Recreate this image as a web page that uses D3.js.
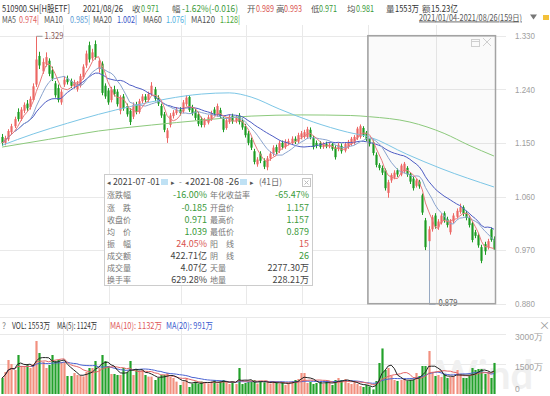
<!DOCTYPE html>
<html>
<head>
<meta charset="utf-8">
<title>510900.SH H股ETF</title>
<script src="https://d3js.org/d3.v7.min.js"></script>
<style>
  body { margin: 0; background: #fff; }
  svg { display: block; font-family: "Noto Sans CJK SC", "Noto Sans", sans-serif; }
</style>
</head>
<body>
<div id="chart"></div>
<script>
// daily candles, 2021/01/04 - 2021/08/26 (159 trading days)
const openP = [
  1.160,1.150,1.156,1.168,1.178,1.202,1.190,1.204,1.216,1.210,
  1.222,1.248,1.296,1.270,1.282,1.288,1.272,1.250,1.242,1.218,
  1.248,1.258,1.254,1.245,1.240,1.246,1.260,1.280,1.314,1.292,
  1.316,1.274,1.283,1.246,1.238,1.222,1.240,1.236,1.204,1.228,
  1.212,1.204,1.194,1.214,1.202,1.220,1.228,1.222,1.232,1.240,
  1.226,1.212,1.198,1.158,1.180,1.195,1.200,1.206,1.203,1.215,
  1.227,1.210,1.203,1.198,1.190,1.180,1.184,1.190,1.206,1.197,
  1.205,1.190,1.175,1.185,1.195,1.186,1.196,1.187,1.178,1.166,
  1.155,1.136,1.114,1.132,1.120,1.109,1.124,1.132,1.143,1.137,
  1.150,1.143,1.150,1.150,1.157,1.152,1.160,1.160,1.160,1.172,
  1.158,1.150,1.150,1.143,1.148,1.144,1.148,1.142,1.140,1.145,
  1.137,1.143,1.148,1.150,1.158,1.160,1.175,1.167,1.157,1.151,
  1.130,1.113,1.108,1.104,1.066,1.087,1.092,1.104,1.097,1.102,
  1.108,1.098,1.090,1.078,1.085,1.062,1.020,0.985,1.005,1.028,
  1.008,1.016,1.032,1.022,1.000,1.018,1.026,1.034,1.042,1.032,
  1.024,1.015,1.000,0.995,0.975,0.980,0.975,1.005,0.989
];
const closeP = [
  1.150,1.158,1.170,1.178,1.190,1.190,1.206,1.214,1.208,1.224,
  1.245,1.290,1.280,1.286,1.294,1.266,1.258,1.230,1.222,1.236,
  1.256,1.252,1.246,1.252,1.250,1.262,1.278,1.300,1.290,1.302,
  1.294,1.288,1.234,1.228,1.218,1.240,1.232,1.215,1.226,1.208,
  1.198,1.185,1.214,1.202,1.220,1.228,1.222,1.232,1.246,1.224,
  1.216,1.196,1.172,1.171,1.196,1.201,1.206,1.200,1.218,1.226,
  1.205,1.200,1.192,1.182,1.180,1.188,1.193,1.200,1.199,1.212,
  1.195,1.172,1.188,1.194,1.186,1.193,1.185,1.176,1.163,1.150,
  1.142,1.118,1.122,1.120,1.110,1.124,1.132,1.142,1.135,1.150,
  1.143,1.152,1.153,1.157,1.152,1.163,1.166,1.168,1.173,1.160,
  1.143,1.145,1.143,1.148,1.144,1.147,1.140,1.126,1.147,1.136,
  1.148,1.152,1.157,1.160,1.174,1.178,1.163,1.156,1.148,1.133,
  1.113,1.108,1.100,1.074,1.084,1.096,1.100,1.097,1.112,1.115,
  1.097,1.085,1.074,1.087,1.077,1.033,0.975,1.005,1.025,1.010,
  1.018,1.028,1.020,1.012,1.018,1.028,1.036,1.042,1.031,1.024,
  1.012,0.987,0.994,0.978,0.952,0.968,0.985,0.987,0.971
];
const highP = [
  1.165,1.162,1.173,1.182,1.194,1.208,1.210,1.218,1.222,1.228,
  1.250,1.329,1.303,1.292,1.302,1.292,1.278,1.254,1.248,1.240,
  1.262,1.263,1.258,1.256,1.254,1.266,1.282,1.305,1.320,1.308,
  1.322,1.292,1.287,1.250,1.242,1.244,1.246,1.240,1.230,1.232,
  1.216,1.208,1.218,1.219,1.224,1.232,1.232,1.236,1.252,1.244,
  1.230,1.216,1.202,1.175,1.200,1.205,1.210,1.210,1.222,1.230,
  1.230,1.214,1.207,1.202,1.194,1.192,1.197,1.204,1.210,1.216,
  1.209,1.194,1.192,1.198,1.199,1.197,1.200,1.191,1.182,1.170,
  1.159,1.140,1.126,1.136,1.124,1.128,1.136,1.146,1.147,1.154,
  1.154,1.156,1.157,1.161,1.161,1.167,1.170,1.172,1.177,1.176,
  1.162,1.154,1.153,1.151,1.152,1.150,1.151,1.146,1.150,1.149,
  1.151,1.155,1.160,1.163,1.177,1.181,1.178,1.170,1.157,1.154,
  1.134,1.116,1.112,1.107,1.088,1.099,1.104,1.107,1.115,1.118,
  1.111,1.101,1.093,1.090,1.088,1.065,1.024,1.010,1.029,1.032,
  1.022,1.032,1.035,1.026,1.022,1.032,1.040,1.048,1.045,1.036,
  1.028,1.018,1.004,0.999,0.979,0.984,0.989,1.008,0.993
];
const lowP = [
  1.145,1.146,1.153,1.165,1.175,1.186,1.187,1.200,1.204,1.206,
  1.220,1.244,1.274,1.266,1.278,1.262,1.254,1.226,1.218,1.214,
  1.244,1.248,1.242,1.241,1.236,1.243,1.257,1.276,1.285,1.288,
  1.290,1.268,1.230,1.224,1.214,1.218,1.228,1.211,1.198,1.204,
  1.194,1.180,1.190,1.198,1.199,1.216,1.218,1.219,1.229,1.220,
  1.212,1.192,1.168,1.150,1.176,1.191,1.197,1.196,1.200,1.212,
  1.202,1.196,1.188,1.178,1.176,1.176,1.181,1.187,1.195,1.194,
  1.191,1.168,1.172,1.182,1.182,1.183,1.181,1.172,1.159,1.146,
  1.138,1.114,1.110,1.116,1.106,1.104,1.120,1.128,1.131,1.133,
  1.139,1.140,1.146,1.147,1.148,1.149,1.156,1.157,1.157,1.156,
  1.139,1.141,1.140,1.140,1.141,1.141,1.137,1.122,1.136,1.132,
  1.134,1.140,1.145,1.147,1.155,1.157,1.160,1.153,1.144,1.129,
  1.109,1.104,1.096,1.070,1.058,1.083,1.089,1.093,1.094,1.099,
  1.093,1.081,1.070,1.075,1.073,1.029,0.970,0.879,1.001,1.006,
  1.004,1.013,1.016,1.008,0.996,1.015,1.023,1.031,1.027,1.020,
  1.008,0.983,0.990,0.974,0.948,0.962,0.971,0.984,0.971
];
// volume, 万
const volume = [
  800,1100,1700,1500,1200,1950,1400,1350,1450,1300,
  1500,2650,2050,1600,1300,1450,1950,1650,1700,1600,
  1600,900,900,1050,950,900,880,1100,1300,1300,
  1650,1300,1950,1650,1400,1000,1000,950,950,1300,
  1100,1650,950,1200,1100,1200,950,870,870,700,
  800,950,950,1050,870,800,620,450,620,800,
  350,520,620,520,620,600,520,620,700,520,
  620,700,600,500,620,500,1300,500,550,600,
  620,700,520,650,580,600,520,600,550,500,
  600,450,550,650,700,750,1050,1050,550,600,
  500,550,600,500,650,550,450,700,800,700,
  750,550,500,600,500,400,350,450,380,228,
  650,1550,2277,1200,1300,900,700,650,700,750,
  650,700,700,1050,900,1400,1400,2150,1100,900,
  950,850,1000,800,850,900,1200,1000,800,800,
  900,1300,1200,1250,1250,1000,1100,800,1553
];
// first trading day of Feb..Aug (index)
const monthStarts = [20, 35, 58, 79, 97, 118, 140];
const priceTicks = [1.330, 1.240, 1.150, 1.060, 0.970, 0.880];
const volTicks = [0, 1500, 3000];
// MA60 / MA120: [day index, value]
const ma60Pts = [[0,1.146],[10,1.165],[21,1.183],[31,1.198],[42,1.212],[53,1.224],[64,1.232],[73,1.234],
                 [80,1.227],[89,1.207],[100,1.185],[111,1.168],[118,1.160],[130,1.131],[141,1.107],[158,1.076]];
const ma120Pts = [[0,1.143],[15,1.156],[31,1.170],[48,1.180],[64,1.188],[80,1.195],[96,1.197],[112,1.196],
                  [118,1.194],[131,1.185],[142,1.166],[150,1.146],[158,1.128]];
const selStart = 118, selEnd = 158;
const hiIdx = 11, loIdx = 137;

const n = closeP.length;
const W = 550, H = 396;
const UP = "#ec6764", DOWN = "#1c9c22", VUP = "#f2907f", VDOWN = "#22a12a";
const GREEN = "#3a9a3a", RED = "#d9534f";

const svg = d3.select("#chart").append("svg").attr("width", W).attr("height", H);

const slot = d3.scaleBand().domain(d3.range(n)).range([0.5, 495.5]);
const xc = i => slot(i) + slot.bandwidth() / 2;
const bw = slot.bandwidth() * 0.7;
const y = d3.scaleLinear().domain([0.880, 1.330]).range([303.7, 35.7]);
const yv = d3.scaleLinear().domain([0, 3000]).range([394, 334]);

function txt(g, x, yy, s, fill, len, size) {
  const t = g.append("text").attr("x", x).attr("y", yy).text(s)
    .attr("fill", fill).style("font-size", (size || 9) + "px");
  if (len) t.attr("textLength", len).attr("lengthAdjust", "spacingAndGlyphs");
  return t;
}

// grid
const grid = svg.append("g").attr("stroke", "#e9e9e9").attr("stroke-width", 1);
grid.selectAll(".hg").data(priceTicks).enter().append("line")
  .attr("x1", 0).attr("x2", 506).attr("y1", d => Math.round(y(d)) + 0.5).attr("y2", d => Math.round(y(d)) + 0.5);
grid.selectAll(".vg").data(monthStarts).enter().append("line")
  .attr("x1", d => Math.round(slot(d)) + 0.5).attr("x2", d => Math.round(slot(d)) + 0.5)
  .attr("y1", 25).attr("y2", 304);
grid.selectAll(".vg2").data(monthStarts).enter().append("line")
  .attr("x1", d => Math.round(slot(d)) + 0.5).attr("x2", d => Math.round(slot(d)) + 0.5)
  .attr("y1", 318).attr("y2", H);
grid.selectAll(".vh").data(volTicks.slice(1)).enter().append("line")
  .attr("x1", 0).attr("x2", 506).attr("y1", d => Math.round(yv(d)) + 0.5).attr("y2", d => Math.round(yv(d)) + 0.5);
grid.append("line").attr("x1", 0).attr("x2", W).attr("y1", 317.5).attr("y2", 317.5);

// selection box background
const selX0 = slot(selStart), selX1 = slot(selEnd) + slot.bandwidth();
svg.append("rect").attr("x", selX0).attr("y", y(1.330)).attr("width", selX1 - selX0)
  .attr("height", y(0.880) - y(1.330)).attr("fill", "rgba(0,0,0,0.018)");

// candles
const idx = d3.range(n);
const cg = svg.append("g");
cg.selectAll("line.wick").data(idx).enter().append("line")
  .attr("x1", i => Math.round(xc(i)) + 0.5).attr("x2", i => Math.round(xc(i)) + 0.5)
  .attr("y1", i => y(highP[i])).attr("y2", i => y(lowP[i]))
  .attr("stroke", i => closeP[i] >= openP[i] ? UP : DOWN).attr("stroke-width", 1);
cg.selectAll("rect.body").data(idx).enter().append("rect")
  .attr("x", i => Math.round(xc(i)) + 0.5 - bw / 2).attr("width", bw)
  .attr("y", i => y(Math.max(openP[i], closeP[i])))
  .attr("height", i => Math.max(1, Math.abs(y(openP[i]) - y(closeP[i]))))
  .attr("fill", i => closeP[i] >= openP[i] ? UP : DOWN);

// moving averages
function sma(arr, k) {
  return arr.map((_, i) => d3.mean(arr.slice(Math.max(0, i - k + 1), i + 1)));
}
const lineI = d3.line().x((d, i) => xc(i)).y(d => y(d));
const linePts = d3.line().x(d => xc(d[0])).y(d => y(d[1])).curve(d3.curveMonotoneX);
const maG = svg.append("g").attr("fill", "none").attr("stroke-width", 1);
maG.append("path").attr("d", linePts(ma120Pts)).attr("stroke", "#8cc97c");
maG.append("path").attr("d", linePts(ma60Pts)).attr("stroke", "#7cc6e6");
maG.append("path").attr("d", lineI(sma(closeP, 20))).attr("stroke", "#4d5cc4");
maG.append("path").attr("d", lineI(sma(closeP, 10))).attr("stroke", "#8aa4cf");
maG.append("path").attr("d", lineI(sma(closeP, 5))).attr("stroke", "#e8797a");

// high / low markers
const hx = Math.round(xc(hiIdx)) + 0.5;
svg.append("line").attr("x1", hx).attr("x2", hx + 6).attr("y1", y(highP[hiIdx])).attr("y2", y(highP[hiIdx]))
  .attr("stroke", "#999");
txt(svg, hx + 8, y(highP[hiIdx]) + 3, d3.format(".3f")(highP[hiIdx]), "#8a5a5a", 19, 8.5);
const lx = Math.round(xc(loIdx)) + 0.5;
svg.append("line").attr("x1", lx).attr("x2", lx).attr("y1", y(Math.min(openP[loIdx], closeP[loIdx])))
  .attr("y2", y(lowP[loIdx])).attr("stroke", "#97a9c2");
svg.append("line").attr("x1", lx).attr("x2", lx + 6).attr("y1", y(lowP[loIdx])).attr("y2", y(lowP[loIdx]))
  .attr("stroke", "#97a9c2");
txt(svg, lx + 9, y(lowP[loIdx]) + 2, d3.format(".3f")(lowP[loIdx]), "#555", 19, 8.5);

// selection box frame + icons
svg.append("rect").attr("x", selX0).attr("y", y(1.330)).attr("width", selX1 - selX0)
  .attr("height", y(0.880) - y(1.330)).attr("fill", "none").attr("stroke", "#a3a3a3").attr("stroke-width", 1.5);
svg.append("rect").attr("x", 471.5).attr("y", 39.5).attr("width", 8).attr("height", 7)
  .attr("fill", "none").attr("stroke", "#cfcfcf");
svg.append("line").attr("x1", 471.5).attr("x2", 479.5).attr("y1", 41.5).attr("y2", 41.5).attr("stroke", "#cfcfcf");
svg.append("path").attr("d", "M483,38 L491,46 M491,38 L483,46").attr("stroke", "#cfcfcf").attr("fill", "none");

// price axis
const pAxis = svg.append("g").attr("transform", "translate(513,0)")
  .call(d3.axisRight(y).tickValues(priceTicks).tickSize(0).tickPadding(2).tickFormat(d3.format(".3f")));
pAxis.select(".domain").remove();
pAxis.selectAll("text").attr("fill", "#a0a0a0").style("font-size", "8.5px")
  .attr("textLength", 20).attr("lengthAdjust", "spacingAndGlyphs");

// volume panel
svg.append("text").attr("x", 436).attr("y", 389).text("Wind")
  .attr("fill", "#f0f0f0").style("font-size", "40px").style("font-weight", "bold").style("font-family", "Lato, sans-serif");
const vg = svg.append("g");
vg.selectAll("rect").data(idx).enter().append("rect")
  .attr("x", i => Math.round(xc(i)) + 0.5 - bw / 2).attr("width", bw)
  .attr("y", i => yv(volume[i])).attr("height", i => yv(0) - yv(volume[i]))
  .attr("fill", i => closeP[i] >= openP[i] ? VUP : VDOWN);
const lineV = d3.line().x((d, i) => xc(i)).y(d => yv(d));
const vmaG = svg.append("g").attr("fill", "none").attr("stroke-width", 1);
vmaG.append("path").attr("d", lineV(sma(volume, 20))).attr("stroke", "#4a63d3");
vmaG.append("path").attr("d", lineV(sma(volume, 10))).attr("stroke", "#e46464");
vmaG.append("path").attr("d", lineV(sma(volume, 5))).attr("stroke", "#222");

const vAxis = svg.append("g").attr("transform", "translate(513,0)")
  .call(d3.axisRight(yv).tickValues(volTicks).tickSize(0).tickPadding(2).tickFormat(d => d === 0 ? "0" : d + "万"));
vAxis.select(".domain").remove();
vAxis.selectAll("text").attr("fill", "#a0a0a0").style("font-size", "8.5px")
  .attr("dy", d => d === 0 ? "-0.3em" : "0.65em");

const vh = svg.append("g");
txt(vh, 2, 328.5, "?", "#888", null, 8.5);
txt(vh, 12, 328.5, "VOL: 1553万", "#333", 38, 9);
txt(vh, 57, 328.5, "MA(5): 1124万", "#333", 40, 9);
txt(vh, 110, 328.5, "MA(10): 1132万", "#e05a5a", 52, 9);
txt(vh, 166, 328.5, "MA(20): 991万", "#3a5bd0", 47, 9);
txt(vh, 539, 330, "×", "#999", null, 11);

// header rows
const hd = svg.append("g");
const r1 = 11.5;
txt(hd, 2, r1, "510900.SH[H股ETF]", "#333", 68, 9.5);
txt(hd, 83, r1, "2021/08/26", "#333", 40, 9.5);
txt(hd, 132, r1, "收", "#555", null, 8.5);
txt(hd, 141, r1, "0.971", GREEN, 18, 9.5);
txt(hd, 172, r1, "幅", "#555", null, 8.5);
txt(hd, 182, r1, "-1.62%(-0.016)", GREEN, 56, 9.5);
txt(hd, 247, r1, "开", "#555", null, 8.5);
txt(hd, 256, r1, "0.989", RED, 18, 9.5);
txt(hd, 276, r1, "高", "#555", null, 8.5);
txt(hd, 284, r1, "0.993", RED, 18, 9.5);
txt(hd, 311, r1, "低", "#555", null, 8.5);
txt(hd, 319, r1, "0.971", GREEN, 18, 9.5);
txt(hd, 347, r1, "均", "#555", null, 8.5);
txt(hd, 356, r1, "0.981", GREEN, 18, 9.5);
txt(hd, 386, r1, "量", "#555", null, 8.5);
txt(hd, 395, r1, "1553万", "#333", 24, 9.5);
txt(hd, 422, r1, "额", "#555", null, 8.5);
txt(hd, 431, r1, "15.23亿", "#333", 27, 9.5);

const r2 = 22.5;
txt(hd, 2, r2, "MA5", "#555", 14, 9);
txt(hd, 19, r2, "0.974|", "#e0605e", 20, 9);
txt(hd, 44, r2, "MA10", "#555", 19, 9);
txt(hd, 70, r2, "0.985|", "#5b9bd5", 20, 9);
txt(hd, 93, r2, "MA20", "#555", 19, 9);
txt(hd, 117, r2, "1.002|", "#3a56c8", 20, 9);
txt(hd, 143, r2, "MA60", "#555", 19, 9);
txt(hd, 166, r2, "1.076|", "#4fb0e0", 20, 9);
txt(hd, 191, r2, "MA120", "#555", 24, 9);
txt(hd, 220, r2, "1.128|", "#4fa83c", 20, 9);

txt(hd, 419, 20.5, "2021/01/04-2021/08/26(159日)", "#555", 103, 8.5).style("text-decoration", "underline");
hd.append("path").attr("d", "M530,14.5 L537,14.5 L533.5,19.5 Z").attr("fill", "#777");
hd.append("rect").attr("x", 543).attr("y", 15).attr("width", 6).attr("height", 5).attr("fill", "#f3c13a");

// range statistics box
const tb = svg.append("g");
tb.append("rect").attr("x", 104.5).attr("y", 174.5).attr("width", 208).attr("height", 111)
  .attr("fill", "#fff").attr("stroke", "#cccccc");
txt(tb, 107, 185, "◂", "#555", null, 7);
txt(tb, 113, 185, "2021-07 -01", "#444", 47, 9);
tb.append("rect").attr("x", 161).attr("y", 179).attr("width", 7).attr("height", 6).attr("fill", "#bfe1f4");
txt(tb, 171, 185, "▸", "#555", null, 7);
txt(tb, 179, 185, "-", "#777", null, 8);
txt(tb, 185, 185, "◂", "#555", null, 7);
txt(tb, 190, 185, "2021-08 -26", "#444", 49, 9);
tb.append("rect").attr("x", 240).attr("y", 179).attr("width", 7).attr("height", 6).attr("fill", "#bfe1f4");
txt(tb, 250, 185, "▸", "#555", null, 7);
txt(tb, 259, 185, "(41日)", "#666", 23, 8.5);
tb.append("rect").attr("x", 302.5).attr("y", 178.5).attr("width", 8).attr("height", 8)
  .attr("fill", "none").attr("stroke", "#c4c4c4");
tb.append("path").attr("d", "M304.5,180.5 L308.5,184.5 M308.5,180.5 L304.5,184.5").attr("stroke", "#bbb");

const statL1 = ["涨跌幅", "涨\u3000跌", "收盘价", "均\u3000价", "振\u3000幅", "成交额", "成交量", "换手率"];
const statV1 = ["-16.00%", "-0.185", "0.971", "1.039", "24.05%", "422.71亿", "4.07亿", "629.28%"];
const statC1 = [GREEN, GREEN, GREEN, GREEN, RED, "#444", "#444", "#444"];
const statL2 = ["年化收益率", "开盘价", "最高价", "最低价", "阳\u3000线", "阴\u3000线", "天量", "地量"];
const statV2 = ["-65.47%", "1.157", "1.157", "0.879", "15", "26", "2277.30万", "228.21万"];
const statC2 = [GREEN, GREEN, GREEN, GREEN, RED, GREEN, "#444", "#444"];
const rowY = [198, 210.5, 223, 235, 246.5, 259, 270.5, 282.5];
statL1.forEach((s, k) => {
  txt(tb, 107, rowY[k], s, "#777", null, 8);
  txt(tb, 207, rowY[k], statV1[k], statC1[k], null, 9).attr("text-anchor", "end");
  txt(tb, 210, rowY[k], statL2[k], "#777", null, 8);
  txt(tb, 309, rowY[k], statV2[k], statC2[k], null, 9).attr("text-anchor", "end");
});
</script>
</body>
</html>
